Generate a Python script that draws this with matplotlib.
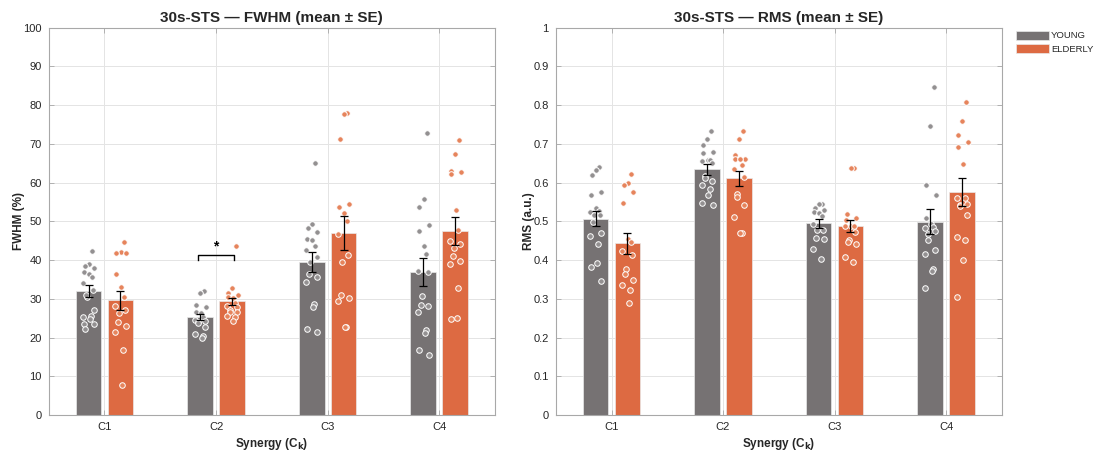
import numpy as np
import matplotlib
matplotlib.use("Agg")
import matplotlib.pyplot as plt
from matplotlib.patches import Patch

plt.rcParams["font.family"] = ["Liberation Sans", "DejaVu Sans"]

# ---- data ----
synergies = ["C1", "C2", "C3", "C4"]
groups = ["YOUNG", "ELDERLY"]

fwhm_mean_young = [32.0, 25.3, 39.6, 36.9]
fwhm_se_young = [1.5, 0.9, 2.6, 3.7]
fwhm_mean_elderly = [29.6, 29.4, 47.1, 47.6]
fwhm_se_elderly = [2.5, 0.9, 4.4, 3.6]

rms_mean_young = [0.507, 0.634, 0.495, 0.499]
rms_se_young = [0.020, 0.014, 0.012, 0.032]
rms_mean_elderly = [0.443, 0.611, 0.488, 0.575]
rms_se_elderly = [0.028, 0.020, 0.016, 0.036]

fwhm_young_c1 = [42.3, 39.1, 38.4, 38.0, 37.0, 36.3, 35.7, 34.1, 32.4, 30.5, 30.9, 27.1, 25.3, 25.5, 24.7, 23.6, 23.6, 22.1]
fwhm_young_c2 = [32.0, 31.6, 28.3, 27.9, 26.5, 26.4, 25.2, 24.5, 24.3, 24.1, 23.8, 22.8, 20.9, 20.4, 19.9]
fwhm_young_c3 = [65.1, 49.2, 48.3, 47.3, 45.5, 45.1, 43.6, 42.5, 40.8, 39.5, 36.5, 35.7, 34.4, 28.6, 27.8, 22.3, 21.5]
fwhm_young_c4 = [72.9, 55.8, 53.6, 49.0, 47.5, 43.7, 41.5, 37.1, 36.9, 30.8, 28.4, 28.1, 26.6, 21.9, 21.1, 16.9, 15.5]
fwhm_elderly_c1 = [44.7, 42.0, 41.8, 41.8, 36.4, 33.1, 30.5, 28.1, 27.2, 26.4, 23.9, 23.0, 21.4, 16.7, 7.8]
fwhm_elderly_c2 = [43.6, 32.8, 31.4, 31.1, 30.5, 30.1, 28.8, 28.1, 27.9, 27.1, 26.6, 26.6, 25.5, 25.2, 24.3]
fwhm_elderly_c3 = [78.0, 77.8, 71.3, 54.4, 53.7, 52.1, 50.1, 46.8, 41.2, 39.5, 30.9, 30.1, 29.4, 22.8, 22.6]
fwhm_elderly_c4 = [71.1, 67.4, 62.9, 62.7, 62.1, 52.8, 47.7, 44.8, 44.2, 43.0, 41.1, 39.8, 39.1, 32.7, 25.1, 24.7]

rms_young_c1 = [0.640, 0.633, 0.620, 0.576, 0.567, 0.534, 0.527, 0.524, 0.517, 0.517, 0.498, 0.471, 0.461, 0.441, 0.393, 0.383, 0.345]
rms_young_c2 = [0.733, 0.713, 0.697, 0.679, 0.676, 0.659, 0.659, 0.655, 0.651, 0.616, 0.613, 0.603, 0.595, 0.584, 0.567, 0.548, 0.542]
rms_young_c3 = [0.546, 0.544, 0.534, 0.529, 0.524, 0.521, 0.514, 0.494, 0.478, 0.478, 0.458, 0.455, 0.428, 0.404]
rms_young_c4 = [0.846, 0.746, 0.594, 0.567, 0.508, 0.492, 0.485, 0.483, 0.475, 0.468, 0.451, 0.427, 0.415, 0.378, 0.372, 0.328]
rms_elderly_c1 = [0.622, 0.600, 0.593, 0.576, 0.547, 0.455, 0.447, 0.424, 0.414, 0.378, 0.365, 0.348, 0.335, 0.324, 0.288]
rms_elderly_c2 = [0.732, 0.712, 0.672, 0.662, 0.660, 0.660, 0.646, 0.636, 0.614, 0.571, 0.564, 0.543, 0.512, 0.469, 0.469]
rms_elderly_c3 = [0.637, 0.637, 0.520, 0.509, 0.503, 0.488, 0.488, 0.487, 0.473, 0.451, 0.447, 0.442, 0.407, 0.394]
rms_elderly_c4 = [0.808, 0.760, 0.722, 0.704, 0.692, 0.648, 0.561, 0.560, 0.546, 0.541, 0.539, 0.517, 0.460, 0.451, 0.401, 0.305]

# ---- style ----
bar_colors = ["#767273", "#DD6A42"]
dot_colors = ["#939091", "#E6845C"]
grid_color = "#E4E4E4"
spine_color = "#A8A8A8"
text_color = "#262626"
bar_width = 0.23
offset = 0.143


def jitter(n, width=0.05):
    k = np.arange(n)
    return width * np.sin(k * 2.39996 + 0.7)


def draw_panel(ax, means, ses, points, ylim, yticks, ylabel, title, ticklabels):
    x = np.arange(1, len(synergies) + 1)
    for g, sign in enumerate([-1, 1]):
        xs = x + sign * offset
        ax.bar(xs, means[g], width=bar_width, color=bar_colors[g],
               edgecolor="#E9E9E9", linewidth=0.5, zorder=2)
        for i, vals in enumerate(points[g]):
            vals = np.asarray(vals)
            ax.scatter(xs[i] + jitter(len(vals)), vals, s=16,
                       facecolor=dot_colors[g], edgecolor="white",
                       linewidth=0.7, zorder=3)
        ax.errorbar(xs, means[g], yerr=ses[g], fmt="none", ecolor="black",
                    elinewidth=0.9, capsize=3, capthick=0.9, zorder=4)
    ax.set_xlim(0.5, len(synergies) + 0.5)
    ax.set_ylim(*ylim)
    ax.set_xticks(x)
    ax.set_xticklabels(synergies)
    ax.set_yticks(yticks)
    ax.set_yticklabels(ticklabels)
    ax.grid(True, color=grid_color, linewidth=0.7, zorder=0)
    ax.set_axisbelow(True)
    for s in ax.spines.values():
        s.set_color(spine_color)
        s.set_linewidth(0.8)
    ax.tick_params(direction="in", length=3.5, width=0.6, colors=spine_color,
                   labelcolor=text_color, labelsize=8, top=True, right=True,
                   pad=5)
    ax.set_ylabel(ylabel, fontsize=8.5, fontweight="bold", color=text_color,
                  labelpad=-1)
    ax.set_xlabel("Synergy (C$_\\mathbf{k}$)", fontsize=8.5, fontweight="bold",
                  color=text_color, labelpad=3)
    ax.set_title(title, fontsize=11, fontweight="bold", color=text_color, pad=4)
    return x


fig = plt.figure(figsize=(10.94, 4.53), dpi=100)
ax1 = fig.add_axes([0.0445, 0.0839, 0.408, 0.855])
ax2 = fig.add_axes([0.508, 0.0839, 0.4077, 0.855])

fwhm_points = [
    [fwhm_young_c1, fwhm_young_c2, fwhm_young_c3, fwhm_young_c4],
    [fwhm_elderly_c1, fwhm_elderly_c2, fwhm_elderly_c3, fwhm_elderly_c4],
]
rms_points = [
    [rms_young_c1, rms_young_c2, rms_young_c3, rms_young_c4],
    [rms_elderly_c1, rms_elderly_c2, rms_elderly_c3, rms_elderly_c4],
]

fwhm_ticks = np.arange(0, 101, 10)
x = draw_panel(ax1, [fwhm_mean_young, fwhm_mean_elderly],
               [fwhm_se_young, fwhm_se_elderly], fwhm_points,
               (0, 100), fwhm_ticks, "FWHM (%)",
               "30s-STS \u2014 FWHM (mean \u00b1 SE)",
               [str(int(t)) for t in fwhm_ticks])

rms_ticks = np.round(np.arange(0, 1.01, 0.1), 1)
draw_panel(ax2, [rms_mean_young, rms_mean_elderly],
           [rms_se_young, rms_se_elderly], rms_points,
           (0, 1), rms_ticks, "RMS (a.u.)",
           "30s-STS \u2014 RMS (mean \u00b1 SE)",
           ["0" if t == 0 else ("1" if t == 1 else f"{t:g}") for t in rms_ticks])

# significance bracket on C2 (FWHM)
bx0, bx1 = x[1] - 0.165, x[1] + 0.165
by, bh = 41.4, 1.3
ax1.plot([bx0, bx0, bx1, bx1], [by - bh, by, by, by - bh], color="black",
         linewidth=1.0, zorder=5)
ax1.text(x[1], by + 0.3, "*", ha="center", va="bottom", fontsize=10,
         fontweight="bold", color="black")

handles = [Patch(facecolor=bar_colors[0], edgecolor="#E9E9E9", linewidth=0.5),
           Patch(facecolor=bar_colors[1], edgecolor="#E9E9E9", linewidth=0.5)]
fig.legend(handles, groups, loc="upper left",
           bbox_to_anchor=(1012 / 1094, 1 - 27 / 453), frameon=False,
           fontsize=6.8, handlelength=3.5, handleheight=1.05, labelspacing=0.4,
           handletextpad=0.25, borderaxespad=0, labelcolor=text_color)

fig.savefig("out.png", dpi=100)
